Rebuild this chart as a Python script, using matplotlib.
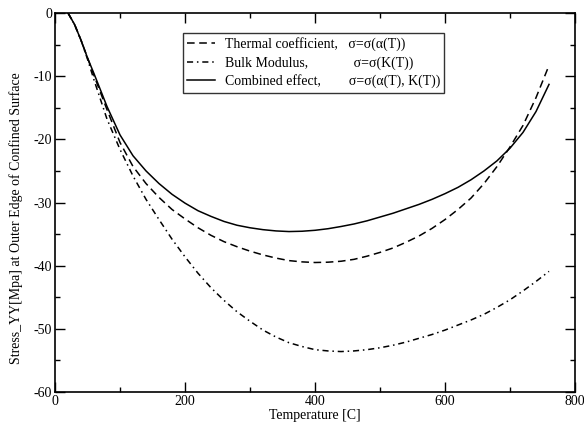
import matplotlib
matplotlib.use("Agg")
import matplotlib.pyplot as plt
from matplotlib.lines import Line2D

plt.rcParams['font.family'] = ['Liberation Serif', 'DejaVu Serif']
plt.rcParams['axes.unicode_minus'] = False

# temperature points [C]
temp = [20, 30, 40, 50, 60, 80, 100, 120, 140, 160, 180, 200, 220, 240, 260, 280,
        300, 320, 340, 360, 380, 400, 420, 440, 460, 480, 500, 520, 540, 560,
        580, 600, 620, 640, 660, 680, 700, 720, 740, 760]

# sigma = sigma(alpha(T))
thermal = [0, -1.8, -4.3, -7.1, -9.9, -15.3, -20.5, -24.3, -27.0, -29.2, -31.1, -32.6,
           -34.0, -35.2, -36.2, -37.0, -37.7, -38.3, -38.8, -39.2, -39.4, -39.5,
           -39.45, -39.3, -39.0, -38.5, -37.9, -37.2, -36.3, -35.3, -34.1, -32.7,
           -31.1, -29.3, -27.0, -24.3, -21.2, -17.8, -13.4, -8.3]

# sigma = sigma(K(T))
bulk = [0, -1.8, -4.3, -7.3, -10.6, -16.8, -21.6, -25.8, -29.5, -32.7, -35.8, -38.6,
        -41.2, -43.5, -45.5, -47.3, -48.8, -50.2, -51.3, -52.2, -52.8, -53.3,
        -53.5, -53.6, -53.5, -53.3, -53.0, -52.6, -52.1, -51.5, -50.9, -50.2,
        -49.4, -48.6, -47.7, -46.6, -45.4, -44.0, -42.5, -40.9]

# sigma = sigma(alpha(T), K(T))
combined = [0, -1.8, -4.3, -7.1, -9.6, -14.8, -19.3, -22.6, -25.0, -27.0, -28.7, -30.1,
            -31.3, -32.2, -33.0, -33.6, -34.0, -34.3, -34.5, -34.6, -34.55, -34.4,
            -34.15, -33.8, -33.4, -32.9, -32.3, -31.7, -31.0, -30.3, -29.5, -28.6,
            -27.6, -26.4, -25.0, -23.4, -21.4, -18.9, -15.6, -11.3]

fig = plt.figure(figsize=(5.84, 4.34), dpi=100)
ax = fig.add_axes([0.0942, 0.0968, 0.8904, 0.8732])

lw = 1.1
ax.plot(temp, thermal, color='black', lw=lw, dashes=(5, 3))
ax.plot(temp, bulk, color='black', lw=lw, dashes=(4, 2.5, 1, 2.5))
ax.plot(temp, combined, color='black', lw=lw)

ax.set_xlim(0, 800)
ax.set_ylim(-60, 0)
ax.set_xticks([0, 200, 400, 600, 800])
ax.set_xticks([100, 300, 500, 700], minor=True)
ax.set_yticks([-60, -50, -40, -30, -20, -10, 0])
ax.set_yticks([-55, -45, -35, -25, -15, -5], minor=True)
ax.tick_params(which='both', direction='in', top=True, right=True, width=1.0,
               labelsize=10, pad=2)
ax.tick_params(which='major', length=7.2)
ax.tick_params(which='minor', length=3.6)
for s in ax.spines.values():
    s.set_linewidth(1.2)

ax.set_xlabel('Temperature [C]', fontsize=10, labelpad=1)
ax.set_ylabel('Stress_YY[Mpa] at Outer Edge of Confined Surface', fontsize=10)
ax.yaxis.set_label_coords(-0.062, 0.459)

handles = [Line2D([], [], color='black', lw=lw, dashes=(5, 3)),
           Line2D([], [], color='black', lw=lw, dashes=(4, 2.5, 1, 2.5)),
           Line2D([], [], color='black', lw=lw)]
labels = ['Thermal coefficient,   \u03c3=\u03c3(\u03b1(T))',
          'Bulk Modulus,             \u03c3=\u03c3(K(T))',
          'Combined effect,        \u03c3=\u03c3(\u03b1(T), K(T))']
leg = ax.legend(handles, labels, loc='upper left', bbox_to_anchor=(0.246, 0.947),
                fontsize=10, frameon=True, fancybox=False, edgecolor='black',
                borderpad=0.3, labelspacing=0.35, handlelength=2.0,
                handletextpad=0.7, borderaxespad=0)
leg.get_frame().set_linewidth(1.0)

fig.savefig('out.png', dpi=100)
